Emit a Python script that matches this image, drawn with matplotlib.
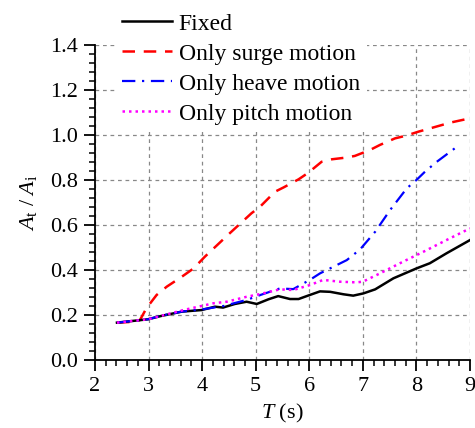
import numpy as np
import matplotlib.pyplot as plt
from matplotlib.ticker import MultipleLocator

plt.rcParams['font.family'] = ['Liberation Serif', 'DejaVu Serif']
plt.rcParams['mathtext.fontset'] = 'custom'
plt.rcParams['mathtext.rm'] = 'Liberation Serif'
plt.rcParams['mathtext.it'] = 'Liberation Serif:italic'

# fixed structure
T_FIXED = [2.41, 2.99, 3.24, 3.62, 3.99, 4.24, 4.39, 4.61, 4.83, 5.02, 5.24, 5.42,
           5.64, 5.80, 6.01, 6.20, 6.39, 6.64, 6.82, 7.01, 7.23, 7.57, 8.0, 8.25,
           8.56, 9.0]
A_FIXED = [0.166, 0.181, 0.196, 0.215, 0.222, 0.237, 0.233, 0.249, 0.259, 0.249,
           0.270, 0.284, 0.271, 0.271, 0.289, 0.305, 0.303, 0.292, 0.286, 0.296,
           0.314, 0.363, 0.407, 0.430, 0.474, 0.533]

# only surge motion
T_SURGE = [2.41, 2.75, 2.84, 2.96, 3.15, 3.34, 3.62, 3.84, 4.05, 4.5, 4.92, 5.08,
           5.36, 5.52, 5.80, 5.98, 6.23, 6.42, 6.70, 6.85, 7.13, 7.32, 7.60, 7.79,
           8.04, 8.19, 8.47, 8.63, 8.92]
A_SURGE = [0.166, 0.170, 0.178, 0.230, 0.289, 0.326, 0.370, 0.407, 0.459, 0.560,
           0.652, 0.681, 0.748, 0.767, 0.803, 0.832, 0.881, 0.892, 0.900, 0.907,
           0.933, 0.956, 0.985, 0.996, 1.015, 1.025, 1.044, 1.055, 1.070]

# only heave motion
T_HEAVE = [2.41, 2.99, 3.24, 3.62, 4.0, 4.4, 4.83, 5.1, 5.45, 5.70, 6.01, 6.20,
           6.70, 6.95, 7.23, 7.51, 7.82, 8.0, 8.16, 8.38, 8.74]
A_HEAVE = [0.166, 0.181, 0.197, 0.215, 0.225, 0.240, 0.267, 0.290, 0.318, 0.315,
           0.356, 0.385, 0.444, 0.492, 0.570, 0.667, 0.763, 0.800, 0.837, 0.881,
           0.945]

# only pitch motion
T_PITCH = [2.41, 2.99, 3.65, 4.21, 4.46, 4.83, 5.08, 5.45, 5.70, 6.01, 6.26, 6.57,
           6.88, 7.0, 7.32, 7.75, 8.13, 8.56, 9.0]
A_PITCH = [0.166, 0.181, 0.222, 0.252, 0.259, 0.281, 0.293, 0.314, 0.311, 0.333,
           0.356, 0.348, 0.345, 0.348, 0.385, 0.437, 0.481, 0.533, 0.585]

LABELS = ["Fixed", "Only surge motion", "Only heave motion", "Only pitch motion"]

fig = plt.figure(figsize=(4.75, 4.28), dpi=100)
ax = fig.add_axes([95 / 475, 68 / 428, 375 / 475, 315 / 428])

ax.plot(T_SURGE, A_SURGE, color='red', lw=1.8, ls=(0, (5, 3.5)), label=LABELS[1], zorder=3)
ax.plot(T_FIXED, A_FIXED, color='black', lw=1.8, label=LABELS[0], zorder=4)
ax.plot(T_HEAVE, A_HEAVE, color='blue', lw=1.6, ls=(0, (6, 3, 1, 3)), label=LABELS[2], zorder=5)
ax.plot(T_PITCH, A_PITCH, color='magenta', lw=1.8, ls=(0, (1, 1.6)), label=LABELS[3], zorder=6)

ax.set_xlim(2, 9)
ax.set_ylim(0, 1.4)
ax.xaxis.set_major_locator(MultipleLocator(1))
ax.xaxis.set_minor_locator(MultipleLocator(0.2))
ax.yaxis.set_major_locator(MultipleLocator(0.2))
ax.yaxis.set_minor_locator(MultipleLocator(0.04))
ax.yaxis.set_major_formatter(plt.FuncFormatter(lambda v, p: f"{v:.1f}"))

ax.spines['top'].set_visible(False)
ax.spines['right'].set_visible(False)
for s in ['left', 'bottom']:
    ax.spines[s].set_linewidth(1.3)
ax.tick_params(which='major', direction='out', length=8, width=1.3, labelsize=16, pad=4.5)
ax.tick_params(which='minor', direction='out', length=4, width=1.1)

ax.grid(True, which='major', color='#888888', ls=(0, (3, 3)), lw=0.9)
ax.set_axisbelow(True)

ax.set_xlabel(r"$T$ (s)", fontsize=16, labelpad=4)
ax.set_ylabel(r"$A_\mathrm{t}$ / $A_\mathrm{i}$", fontsize=16, labelpad=8)

handles, labels = ax.get_legend_handles_labels()
order = [labels.index(l) for l in LABELS]
leg = fig.legend([handles[i] for i in order], [labels[i] for i in order],
                 loc='upper left', bbox_to_anchor=(115 / 475, 1 - 6 / 428),
                 fontsize=17, frameon=True, framealpha=1, facecolor='white',
                 edgecolor='none', fancybox=False, borderpad=0.3,
                 labelspacing=0.36, handlelength=2.1, handletextpad=0.3,
                 borderaxespad=0)

fig.savefig('out.png', dpi=100)
